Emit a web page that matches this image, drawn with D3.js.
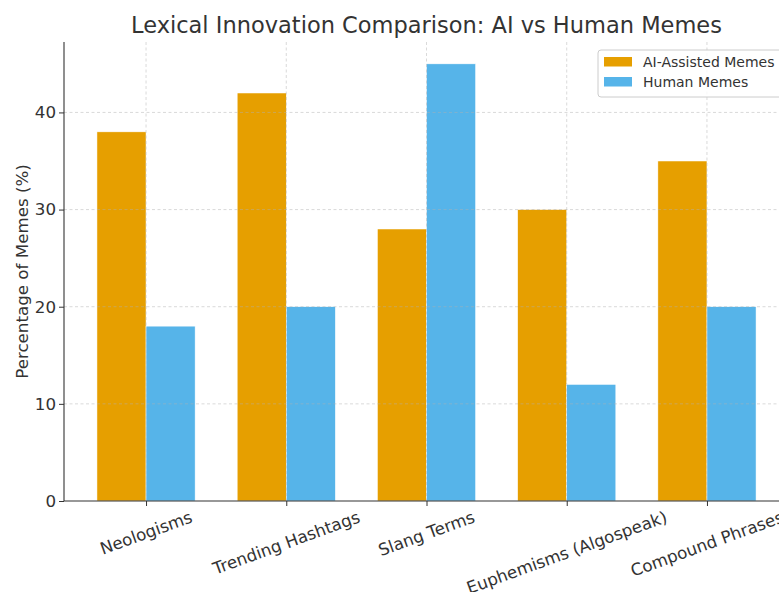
<!DOCTYPE html>
<meta charset="utf-8">
<body>
<script src="https://cdn.jsdelivr.net/npm/d3@7"></script>
<style>
    html, body {
        margin: 0;
        background: #fff;
        overflow: hidden;
    }
    text {
        font-family: "DejaVu Sans", sans-serif;
        fill: #333;
    }
</style>
<script>
var categories = ["Neologisms", "Trending Hashtags", "Slang Terms", "Euphemisms (Algospeak)", "Compound Phrases"],
    aiValues = [38, 42, 28, 30, 35],
    humanValues = [18, 20, 45, 12, 20],
    seriesNames = ["AI-Assisted Memes", "Human Memes"],
    colors = ["#E69F00", "#56B4E9"],
    yTicks = [0, 10, 20, 30, 40];

var width = 779,
    height = 592,
    plotLeft = 64,
    plotRight = 789,
    plotTop = 42,
    plotBottom = 501,
    barW = 0.35;

var svg = d3.select("body").append("svg")
    .attr("width", width)
    .attr("height", height);

var x = d3.scaleLinear()
    .domain([-0.585, categories.length - 1 + 0.585])
    .range([plotLeft, plotRight]);

var y = d3.scaleLinear()
    .domain([0, 47.25])
    .range([plotBottom, plotTop]);

// bars
var series = [aiValues, humanValues];
series.forEach(function(vals, s) {
    svg.append("g").selectAll("rect")
        .data(vals)
        .enter().append("rect")
        .attr("x", function(d, i) { return x(i + (s === 0 ? -barW : 0)); })
        .attr("width", x(barW) - x(0))
        .attr("y", function(d) { return y(d); })
        .attr("height", function(d) { return y(0) - y(d); })
        .attr("fill", colors[s])
        .attr("stroke", "#fff")
        .attr("stroke-width", 0.5);
});

// grid (drawn above bars, like the original)
var grid = svg.append("g")
    .attr("stroke", "#b0b0b0")
    .attr("stroke-opacity", 0.6)
    .attr("stroke-width", 0.8)
    .attr("stroke-dasharray", "3,2.5");

grid.selectAll(".gy")
    .data(yTicks.slice(1))
    .enter().append("line")
    .attr("x1", plotLeft).attr("x2", plotRight)
    .attr("y1", function(d) { return y(d); })
    .attr("y2", function(d) { return y(d); });

grid.selectAll(".gx")
    .data(categories)
    .enter().append("line")
    .attr("x1", function(d, i) { return x(i); })
    .attr("x2", function(d, i) { return x(i); })
    .attr("y1", plotTop).attr("y2", plotBottom);

// axes
var yAxis = svg.append("g")
    .attr("transform", "translate(" + plotLeft + ",0)")
    .call(d3.axisLeft(y).tickValues(yTicks).tickSize(5).tickPadding(3));

var xAxis = svg.append("g")
    .attr("transform", "translate(0," + plotBottom + ")")
    .call(d3.axisBottom(x).tickValues(d3.range(categories.length)).tickSize(5).tickFormat(""));

[xAxis, yAxis].forEach(function(ax) {
    ax.select(".domain").attr("stroke", "#333").attr("stroke-width", 1.1);
    ax.selectAll(".tick line").attr("stroke", "#333");
});
yAxis.select(".domain").attr("d", "M0," + plotBottom + "V" + plotTop);
xAxis.select(".domain").attr("d", "M" + plotLeft + ",0H" + plotRight);

yAxis.selectAll(".tick text")
    .style("font-family", "DejaVu Sans")
    .style("font-size", "16.7px")
    .attr("fill", "#333");

// rotated category labels
var rot = 20 * Math.PI / 180;
svg.append("g").selectAll("text")
    .data(categories)
    .enter().append("text")
    .attr("text-anchor", "middle")
    .attr("dominant-baseline", "central")
    .style("font-size", "16.7px")
    .text(function(d) { return d; })
    .attr("transform", function(d, i) {
        var w = this.getComputedTextLength(),
            cy = plotBottom + 8 + (w * Math.sin(rot) + 15 * Math.cos(rot)) / 2;
        return "translate(" + x(i) + "," + cy + ") rotate(-20)";
    });

// y label
svg.append("text")
    .attr("transform", "translate(28," + (plotTop + plotBottom) / 2 + ") rotate(-90)")
    .attr("text-anchor", "middle")
    .style("font-size", "16.7px")
    .text("Percentage of Memes (%)");

// title
svg.append("text")
    .attr("x", (plotLeft + plotRight) / 2)
    .attr("y", 33)
    .attr("text-anchor", "middle")
    .style("font-size", "22.5px")
    .text("Lexical Innovation Comparison: AI vs Human Memes");

// legend
var legend = svg.append("g")
    .attr("transform", "translate(598,50)");

legend.append("rect")
    .attr("width", 184)
    .attr("height", 47)
    .attr("rx", 3)
    .attr("fill", "#fff")
    .attr("fill-opacity", 0.8)
    .attr("stroke", "#ccc");

var item = legend.selectAll(".item")
    .data(seriesNames)
    .enter().append("g")
    .attr("transform", function(d, i) { return "translate(6," + (7 + i * 20) + ")"; });

item.append("rect")
    .attr("width", 28)
    .attr("height", 9.5)
    .attr("fill", function(d, i) { return colors[i]; });

item.append("text")
    .attr("x", 39)
    .attr("y", 5)
    .attr("dominant-baseline", "central")
    .style("font-size", "14px")
    .text(function(d) { return d; });
</script>
